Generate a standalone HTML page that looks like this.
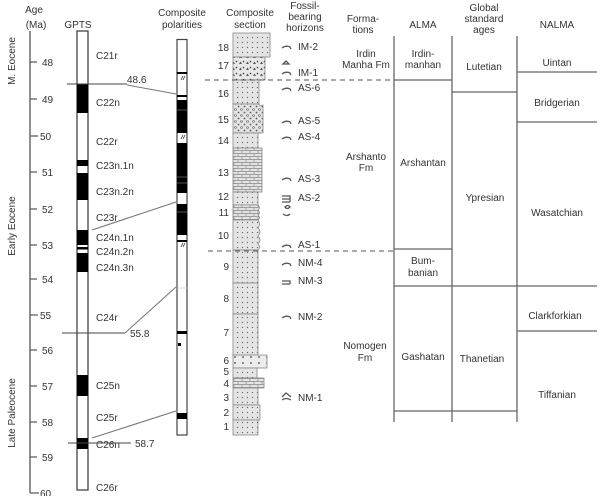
<!DOCTYPE html>
<html><head><meta charset="utf-8"><style>
html,body{margin:0;padding:0;background:#fff;}
svg{display:block;}
text{font-family:"Liberation Sans",Arial,sans-serif;font-size:10px;fill:#333;}
</style></head><body>
<svg width="600" height="496" viewBox="0 0 600 496" xmlns="http://www.w3.org/2000/svg">
<defs>
<pattern id="dots" width="5" height="5" patternUnits="userSpaceOnUse"><rect width="5" height="5" fill="#e4e4e4"/><circle cx="2.5" cy="2.5" r="0.65" fill="#666"/></pattern>
<pattern id="brick" width="8" height="6" patternUnits="userSpaceOnUse"><rect width="8" height="6" fill="#e4e4e4"/><path d="M0 0.5H8M0 3.5H8M2 0.5V3.5M6 3.5V6.5" stroke="#888" stroke-width="0.7"/></pattern>
<pattern id="cong" width="6" height="6" patternUnits="userSpaceOnUse"><rect width="6" height="6" fill="#e4e4e4"/><circle cx="1.5" cy="1.5" r="1" fill="none" stroke="#555" stroke-width="0.6"/><circle cx="4.5" cy="4.5" r="0.9" fill="#555"/></pattern>
<pattern id="tri" width="7" height="6" patternUnits="userSpaceOnUse"><rect width="7" height="6" fill="#e8e8e8"/><path d="M1 4l1.5-2.5L4 4z" fill="#555"/><circle cx="5.5" cy="1.5" r="0.8" fill="#333"/></pattern>
<pattern id="bigdots" width="8" height="6" patternUnits="userSpaceOnUse"><rect width="8" height="6" fill="#ececec"/><circle cx="3" cy="3" r="0.9" fill="#444"/></pattern>
</defs>

<!-- Age axis -->
<text x="34" y="13" text-anchor="middle">Age</text>
<text x="36" y="28" text-anchor="middle">(Ma)</text>
<line x1="30" y1="31" x2="30" y2="493" stroke="#555" stroke-width="1.3"/>
<g stroke="#555" stroke-width="1.2">
<line x1="30" y1="62" x2="37" y2="62"/><line x1="30" y1="99" x2="37" y2="99"/><line x1="30" y1="136" x2="38" y2="136"/>
<line x1="30" y1="172" x2="37" y2="172"/><line x1="30" y1="209" x2="37" y2="209"/><line x1="30" y1="245" x2="37" y2="245"/>
<line x1="30" y1="279" x2="37" y2="279"/><line x1="30" y1="315" x2="38" y2="315"/><line x1="30" y1="350" x2="37" y2="350"/>
<line x1="30" y1="386" x2="37" y2="386"/><line x1="30" y1="422" x2="37" y2="422"/><line x1="30" y1="457" x2="37" y2="457"/>
<line x1="30" y1="493" x2="39" y2="493"/>
</g>
<g>
<text x="42" y="66">48</text><text x="42" y="103">49</text><text x="40" y="140">50</text>
<text x="42" y="176">51</text><text x="42" y="213">52</text><text x="42" y="249">53</text>
<text x="42" y="283">54</text><text x="40" y="319">55</text><text x="42" y="354">56</text>
<text x="42" y="390">57</text><text x="42" y="426">58</text><text x="42" y="461">59</text>
<text x="40" y="497">60</text>
</g>
<text transform="translate(15,61) rotate(-90)" text-anchor="middle">M. Eocene</text>
<text transform="translate(15,226) rotate(-90)" text-anchor="middle">Early Eocene</text>
<text transform="translate(15,413) rotate(-90)" text-anchor="middle">Late Paleocene</text>

<!-- GPTS -->
<text x="78" y="28" text-anchor="middle">GPTS</text>
<rect x="77" y="31" width="11" height="459" fill="#fff" stroke="#444" stroke-width="1.3"/>
<g fill="#000">
<rect x="77" y="84" width="11" height="29"/>
<rect x="77" y="160" width="11" height="6"/>
<rect x="77" y="173" width="11" height="27"/>
<rect x="77" y="230" width="11" height="15"/>
<rect x="77" y="247" width="11" height="2.5"/>
<rect x="77" y="253" width="11" height="19"/>
<rect x="77" y="375" width="11" height="21"/>
<rect x="77" y="438" width="11" height="11"/>
</g>
<g>
<text x="96" y="59">C21r</text>
<text x="96" y="106">C22n</text>
<text x="96" y="145">C22r</text>
<text x="96" y="169">C23n.1n</text>
<text x="96" y="195">C23n.2n</text>
<text x="96" y="221">C23r</text>
<text x="96" y="241">C24n.1n</text>
<text x="96" y="255">C24n.2n</text>
<text x="96" y="271">C24n.3n</text>
<text x="96" y="321">C24r</text>
<text x="96" y="389">C25n</text>
<text x="96" y="421">C25r</text>
<text x="96" y="448">C26n</text>
<text x="96" y="491">C26r</text>
</g>
<!-- correlation lines -->
<g stroke="#777" stroke-width="1.1" fill="none">
<line x1="67" y1="84" x2="127" y2="84" stroke="#444"/>
<line x1="127" y1="85" x2="176" y2="94"/>
<line x1="92" y1="230" x2="176" y2="202"/>
<line x1="62" y1="333" x2="125" y2="333" stroke="#444"/>
<line x1="125" y1="333" x2="176" y2="287"/>
<line x1="68" y1="443" x2="131" y2="443" stroke="#444"/>
<line x1="92" y1="438" x2="176" y2="411"/>
</g>
<text x="127" y="83">48.6</text>
<text x="130" y="337">55.8</text>
<text x="135" y="447">58.7</text>

<!-- Composite polarities -->
<text x="182" y="16" text-anchor="middle">Composite</text>
<text x="182" y="28" text-anchor="middle">polarities</text>
<rect x="177" y="39.5" width="10" height="395.5" fill="#fff" stroke="#444" stroke-width="1.2"/>
<g fill="#000">
<rect x="177" y="72" width="10" height="2"/>
<rect x="177" y="95" width="10" height="2"/>
<rect x="177" y="100" width="10" height="33"/>
<rect x="177" y="143" width="10" height="50"/>
<rect x="177" y="204" width="10" height="31"/>
<rect x="177" y="240" width="10" height="2"/>
<rect x="177" y="331" width="10" height="3"/>
<rect x="178" y="343" width="3" height="3"/>
<rect x="177" y="413" width="10" height="6"/>
</g>
<g stroke="#888" stroke-width="0.6">
<line x1="177" y1="110" x2="187" y2="110"/><line x1="177" y1="177" x2="187" y2="177"/><line x1="177" y1="183" x2="187" y2="183"/><line x1="177" y1="212" x2="187" y2="212"/>
</g>
<g stroke="#333" stroke-width="0.8" fill="none">
<path d="M181 80l2-4M183 80l2-4"/><path d="M181 139l2-4M183 139l2-4"/><path d="M181 247l2-4M183 247l2-4"/>
</g>
<line x1="177" y1="288" x2="187" y2="288" stroke="#bbb" stroke-width="0.8" stroke-dasharray="2,1"/>

<!-- Composite section -->
<text x="250" y="16" text-anchor="middle">Composite</text>
<text x="250" y="28" text-anchor="middle">section</text>
<g stroke="#888" stroke-width="0.8">
<rect x="233" y="33" width="37" height="24" fill="url(#dots)"/>
<rect x="233" y="57" width="32" height="23" fill="url(#tri)"/>
<rect x="233" y="80" width="26" height="24" fill="url(#dots)"/>
<path d="M233 104H258l3 2 2-1V133H233z" fill="url(#cong)"/>
<rect x="233" y="133" width="25" height="15" fill="url(#dots)"/>
<rect x="233" y="148" width="29" height="44" fill="url(#brick)"/>
<rect x="233" y="192" width="25" height="13" fill="url(#dots)"/>
<path d="M233 205H258q3 3 0 5q3 3 0 5q3 3 0 5H233z" fill="url(#brick)"/>
<path d="M233 220H258q3 4 0 8q4 4 0 8q4 4 0 8q3 3 0 6H233z" fill="url(#dots)"/>
<rect x="233" y="250" width="25" height="33" fill="url(#dots)"/>
<rect x="233" y="283" width="25" height="31" fill="url(#dots)"/>
<rect x="233" y="314" width="25" height="41" fill="url(#dots)"/>
<rect x="233" y="355" width="34" height="13" fill="url(#bigdots)"/>
<rect x="233" y="368" width="24" height="10" fill="url(#dots)"/>
<rect x="233" y="378" width="31" height="10" fill="url(#brick)"/>
<rect x="233" y="388" width="25" height="17" fill="url(#dots)"/>
<rect x="233" y="405" width="27" height="15" fill="url(#dots)"/>
<rect x="233" y="420" width="25" height="15" fill="url(#dots)"/>
</g>
<g text-anchor="end">
<text x="229" y="51">18</text><text x="229" y="69">17</text><text x="229" y="97">16</text>
<text x="229" y="123">15</text><text x="229" y="144">14</text><text x="229" y="176">13</text>
<text x="229" y="200">12</text><text x="229" y="216">11</text><text x="229" y="239">10</text>
<text x="229" y="270">9</text><text x="229" y="302">8</text><text x="229" y="336">7</text>
<text x="229" y="364">6</text><text x="229" y="375">5</text><text x="229" y="387">4</text>
<text x="229" y="401">3</text><text x="229" y="416">2</text><text x="229" y="430">1</text>
</g>

<!-- dashed boundaries -->
<g stroke="#555" stroke-width="1.1" stroke-dasharray="5,4">
<line x1="205" y1="80" x2="394" y2="80"/>
<line x1="208" y1="251" x2="394" y2="251"/>
</g>

<!-- Fossil horizons -->
<text x="305" y="9" text-anchor="middle">Fossil-</text>
<text x="305" y="20" text-anchor="middle">bearing</text>
<text x="305" y="31" text-anchor="middle">horizons</text>
<g stroke="#555" stroke-width="1.3" fill="none">
<path d="M282 48q4-3 8-1l1 2"/>
<path d="M283 64l3-3 3 3z"/>
<path d="M282 74q4-3 8-1l1 2"/>
<path d="M282 90q4-3 8-1l1 2"/>
<path d="M282 123q4-3 8-1l1 2"/>
<path d="M282 139q4-3 8-1l1 2"/>
<path d="M282 180q4-3 8-1l1 2"/>
<path d="M282 196h8v3M282 199h8v3M282 202h8"/>
<path d="M285 207q3-3 5 0q-3 3-5 0z"/>
<path d="M283 214q4 3 7 0"/>
<path d="M282 247q4-3 8-1l1 2"/>
<path d="M282 265q4-3 8-1l1 2"/>
<path d="M282 281h8v3M282 284h8"/>
<path d="M282 318q4-3 8-1l1 2"/>
<path d="M282 397l4-4 5 4M282 400q4-3 9 0"/>
</g>
<g>
<text x="298" y="50">IM-2</text>
<text x="298" y="76">IM-1</text>
<text x="298" y="91">AS-6</text>
<text x="298" y="124">AS-5</text>
<text x="298" y="140">AS-4</text>
<text x="298" y="182">AS-3</text>
<text x="298" y="201">AS-2</text>
<text x="298" y="248">AS-1</text>
<text x="298" y="266">NM-4</text>
<text x="298" y="284">NM-3</text>
<text x="298" y="320">NM-2</text>
<text x="298" y="401">NM-1</text>
</g>

<!-- Right table -->
<text x="363" y="22" text-anchor="middle">Forma-</text>
<text x="363" y="33" text-anchor="middle">tions</text>
<text x="423" y="28" text-anchor="middle">ALMA</text>
<text x="484" y="11" text-anchor="middle">Global</text>
<text x="484" y="22" text-anchor="middle">standard</text>
<text x="484" y="33" text-anchor="middle">ages</text>
<text x="557" y="28" text-anchor="middle">NALMA</text>

<g stroke="#666" stroke-width="1.3">
<line x1="394" y1="36" x2="394" y2="422"/>
<line x1="452" y1="36" x2="452" y2="422"/>
<line x1="517" y1="36" x2="517" y2="422"/>
<line x1="394" y1="80" x2="452" y2="80"/>
<line x1="452" y1="92" x2="517" y2="92"/>
<line x1="517" y1="72" x2="597" y2="72"/>
<line x1="517" y1="122" x2="597" y2="122"/>
<line x1="394" y1="249" x2="452" y2="249"/>
<line x1="394" y1="286" x2="597" y2="286"/>
<line x1="517" y1="331" x2="597" y2="331"/>
<line x1="394" y1="411" x2="517" y2="411"/>
</g>
<g text-anchor="middle">
<text x="366" y="57">Irdin</text>
<text x="366" y="68">Manha Fm</text>
<text x="423" y="57">Irdin-</text>
<text x="423" y="68">manhan</text>
<text x="484" y="70">Lutetian</text>
<text x="557" y="66">Uintan</text>
<text x="557" y="106">Bridgerian</text>
<text x="366" y="160">Arshanto</text>
<text x="366" y="171">Fm</text>
<text x="423" y="166">Arshantan</text>
<text x="485" y="201">Ypresian</text>
<text x="557" y="216">Wasatchian</text>
<text x="423" y="264">Bum-</text>
<text x="423" y="276">banian</text>
<text x="555" y="319">Clarkforkian</text>
<text x="365" y="349">Nomogen</text>
<text x="365" y="361">Fm</text>
<text x="423" y="360">Gashatan</text>
<text x="482" y="362">Thanetian</text>
<text x="557" y="398">Tiffanian</text>
</g>
</svg>
</body></html>
